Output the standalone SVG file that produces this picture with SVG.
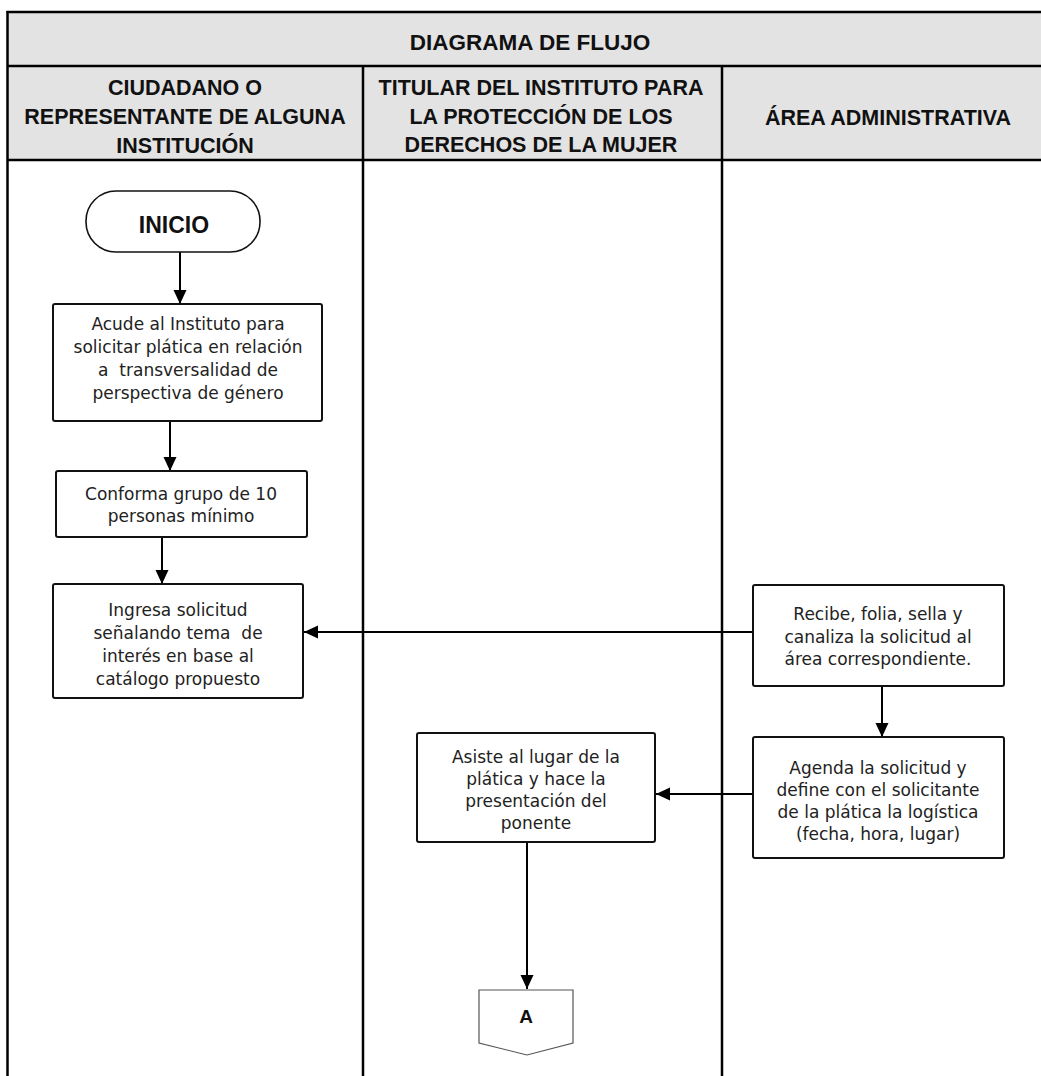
<svg xmlns="http://www.w3.org/2000/svg" width="1041" height="1076" viewBox="0 0 1041 1076">
<style>
.hdr{font-family:"Liberation Sans",Arial,sans-serif;font-weight:bold;font-size:21.5px;fill:#111;text-anchor:middle}
.ttl{font-family:"Liberation Sans",Arial,sans-serif;font-weight:bold;font-size:22.5px;fill:#111;text-anchor:middle}
.txt{font-family:"DejaVu Sans","Liberation Sans",sans-serif;font-size:17px;fill:#222;text-anchor:middle;white-space:pre}
.box{fill:#fff;stroke:#111;stroke-width:2}
.grid{stroke:#000;stroke-width:2.5;fill:none}
.conn{stroke:#000;stroke-width:2;fill:none;marker-end:url(#arr)}
</style>
<defs>
<marker id="arr" markerUnits="userSpaceOnUse" markerWidth="14" markerHeight="14" refX="14" refY="7" orient="auto">
<path d="M0,0.5 L14,7 L0,13.5 Z" fill="#000"/>
</marker>
</defs>
<rect x="0" y="0" width="1041" height="1076" fill="#fff"/>
<g id="table">
<rect x="8" y="12" width="1033" height="148" fill="#e3e3e3"/>
<line class="grid" x1="6.5" y1="12" x2="1041" y2="12"/>
<line class="grid" x1="8" y1="66" x2="1041" y2="66"/>
<line class="grid" x1="8" y1="160" x2="1041" y2="160"/>
<line class="grid" x1="7.5" y1="11" x2="7.5" y2="1076"/>
<line class="grid" x1="363" y1="66" x2="363" y2="1076"/>
<line class="grid" x1="722" y1="66" x2="722" y2="1076"/>
<text class="ttl" x="530" y="50">DIAGRAMA DE FLUJO</text>
<text class="hdr" x="185" y="95">CIUDADANO O</text>
<text class="hdr" x="185" y="124">REPRESENTANTE DE ALGUNA</text>
<text class="hdr" x="185" y="153">INSTITUCIÓN</text>
<text class="hdr" x="541" y="95">TITULAR DEL INSTITUTO PARA</text>
<text class="hdr" x="541" y="124">LA PROTECCIÓN DE LOS</text>
<text class="hdr" x="541" y="152">DERECHOS DE LA MUJER</text>
<text class="hdr" x="888" y="125">ÁREA ADMINISTRATIVA</text>
</g>
<g id="connectors">
<line class="conn" x1="180" y1="252" x2="180" y2="304"/>
<line class="conn" x1="170" y1="421" x2="170" y2="471"/>
<line class="conn" x1="162" y1="537" x2="162" y2="584"/>
<line class="conn" x1="753" y1="632" x2="304" y2="632"/>
<line class="conn" x1="882" y1="686" x2="882" y2="737"/>
<line class="conn" x1="753" y1="794" x2="656" y2="794"/>
<line class="conn" x1="527" y1="842" x2="527" y2="989"/>
</g>
<g id="inicio">
<rect x="86" y="191" width="174" height="61" rx="30" ry="30" fill="#fff" stroke="#111" stroke-width="1.6"/>
<text x="174" y="233" font-family="Liberation Sans, Arial, sans-serif" font-weight="bold" font-size="23" fill="#111" text-anchor="middle">INICIO</text>
</g>
<g id="acude">
<rect class="box" x="53" y="304" width="269" height="117" rx="2"/>
<text class="txt" x="188" y="330">Acude al Instituto para</text>
<text class="txt" x="188" y="353">solicitar plática en relación</text>
<text class="txt" x="188" y="376">a  transversalidad de</text>
<text class="txt" x="188" y="399">perspectiva de género</text>
</g>
<g id="conforma">
<rect class="box" x="56" y="471" width="251" height="66" rx="2"/>
<text class="txt" x="181" y="500">Conforma grupo de 10</text>
<text class="txt" x="181" y="522">personas mínimo</text>
</g>
<g id="ingresa">
<rect class="box" x="53" y="584" width="250" height="114" rx="2"/>
<text class="txt" x="178" y="616">Ingresa solicitud</text>
<text class="txt" x="178" y="639">señalando tema  de</text>
<text class="txt" x="178" y="662">interés en base al</text>
<text class="txt" x="178" y="685">catálogo propuesto</text>
</g>
<g id="recibe">
<rect class="box" x="753" y="585" width="251" height="101" rx="2"/>
<text class="txt" x="878" y="620">Recibe, folia, sella y</text>
<text class="txt" x="878" y="643">canaliza la solicitud al</text>
<text class="txt" x="878" y="665">área correspondiente.</text>
</g>
<g id="agenda">
<rect class="box" x="753" y="737" width="251" height="121" rx="2"/>
<text class="txt" x="878" y="774">Agenda la solicitud y</text>
<text class="txt" x="878" y="796">define con el solicitante</text>
<text class="txt" x="878" y="818">de la plática la logística</text>
<text class="txt" x="878" y="840">(fecha, hora, lugar)</text>
</g>
<g id="asiste">
<rect class="box" x="417" y="733" width="238" height="109" rx="2"/>
<text class="txt" x="536" y="763">Asiste al lugar de la</text>
<text class="txt" x="536" y="785">plática y hace la</text>
<text class="txt" x="536" y="807">presentación del</text>
<text class="txt" x="536" y="829">ponente</text>
</g>
<g id="conectorA">
<path d="M479,990 L573,990 L573,1043 L527,1055 L479,1043 Z" fill="#fff" stroke="#555" stroke-width="1.2"/>
<text x="526" y="1023" font-family="Liberation Sans, Arial, sans-serif" font-weight="bold" font-size="19" fill="#111" text-anchor="middle">A</text>
</g>
</svg>
